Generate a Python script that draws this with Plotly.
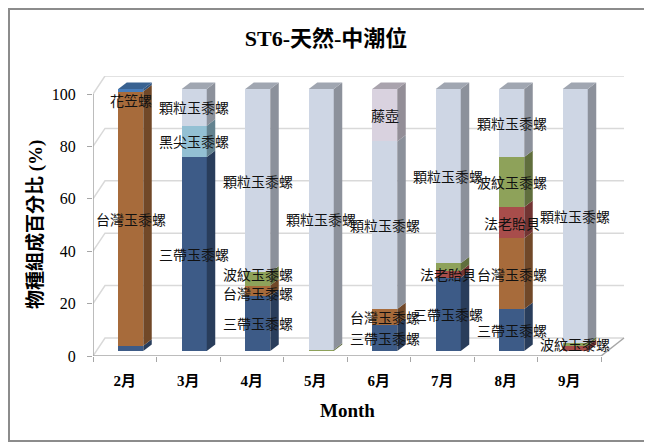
import plotly.graph_objects as go

months = ['2月', '3月', '4月', '5月', '6月', '7月', '8月', '9月']

# percentage of each species per month, listed bottom -> top of the stack
sandai = [2, 74, 21, 0, 10, 28, 16, 0]           # 三帶玉黍螺
taiwan = [97, 0, 4, 0, 6, 0, 27, 0]              # 台灣玉黍螺
huali = [1, 0, 0, 0, 0, 0, 0, 0]                 # 花笠螺
heijian = [0, 12, 0, 0, 0, 0, 0, 0]              # 黑尖玉黍螺
falao = [0, 0, 0, 0, 0, 2.5, 12, 2]              # 法老貽貝
bowen = [0, 0, 5, 0.5, 0, 3, 19, 1]              # 波紋玉黍螺
keli = [0, 14, 70, 99.5, 64, 66.5, 26, 97]       # 顆粒玉黍螺
tenghu = [0, 0, 0, 0, 20, 0, 0, 0]               # 藤壺

# which segments carry a data label in the original chart
sandai_lbl = [0, 1, 1, 0, 1, 1, 1, 0]
taiwan_lbl = [1, 0, 1, 0, 1, 0, 1, 0]
huali_lbl = [1, 0, 0, 0, 0, 0, 0, 0]
heijian_lbl = [0, 1, 0, 0, 0, 0, 0, 0]
falao_lbl = [0, 0, 0, 0, 0, 1, 1, 0]
bowen_lbl = [0, 0, 1, 0, 0, 0, 1, 1]
keli_lbl = [0, 1, 1, 1, 1, 1, 1, 1]
tenghu_lbl = [0, 0, 0, 0, 1, 0, 0, 0]

y_ticks = [0, 20, 40, 60, 80, 100]

series = [
    ('三帶玉黍螺', sandai, sandai_lbl, '#3D5B87'),
    ('台灣玉黍螺', taiwan, taiwan_lbl, '#A76B3B'),
    ('花笠螺', huali, huali_lbl, '#4A7EBB'),
    ('黑尖玉黍螺', heijian, heijian_lbl, '#93C0D3'),
    ('法老貽貝', falao, falao_lbl, '#A84D4B'),
    ('波紋玉黍螺', bowen, bowen_lbl, '#8EA25A'),
    ('顆粒玉黍螺', keli, keli_lbl, '#CED6E4'),
    ('藤壺', tenghu, tenghu_lbl, '#D9D2DF'),
]

# small label nudges (px) where Excel moved crowded labels apart
label_nudge = {('花笠螺', '2月'): -10, ('波紋玉黍螺', '4月'): 5, ('台灣玉黍螺', '4月'): -2}

# the page body keeps its default 8px margin, so work in page pixels
# and shift everything back by that amount
PAGE = 8
W, H = 652 - PAGE, 448 - PAGE
L, R, T, B = 93 - PAGE, 625 - PAGE, 76 - PAGE, 356 - PAGE
PX_X = 63.5          # px per category
PX_Y = 2.62          # px per percent
x_max = -0.5 + (R - L) / PX_X
y_max = (B - T) / PX_Y
lift = 5 / PX_Y      # bars stand a little back on the floor

bar_w = 25 / PX_X
bar_off = 6 / PX_X - bar_w / 2
side_dx, side_dy = 8.5 / PX_X, 6.5 / PX_Y
wall_dy = 18 / PX_Y
wall_dxl, wall_dxr = 12 / PX_X, 23 / PX_X

SERIF = 'Liberation Serif, Noto Sans CJK TC, serif'
CJK = 'Noto Sans CJK TC, sans-serif'


def shade(hex_color, k):
    r, g, b = (int(hex_color[i:i + 2], 16) for i in (1, 3, 5))
    return '#%02x%02x%02x' % (int(r * k), int(g * k), int(b * k))


def px_to_paper(px, py):
    # px, py are page pixels of the reference picture
    px, py = px - PAGE, py - PAGE
    return (px - L) / (R - L), (B - py) / (B - T)


fig = go.Figure()
shapes = []
annotations = []

# back wall / floor lines
for v in y_ticks:
    shapes.append(dict(type='path', xref='x', yref='y', layer='below',
                       path=f'M -0.5,{v} L {-0.5 + wall_dxl},{v + wall_dy} '
                            f'L {7.5 + wall_dxr},{v + wall_dy}',
                       line=dict(color='#D9D9D9', width=1.5)))
shapes.append(dict(type='line', xref='x', yref='y', layer='below',
                   x0=7.5, y0=0, x1=7.5 + wall_dxr, y1=wall_dy,
                   line=dict(color='#A6A6A6', width=1.5)))
# axis lines
shapes.append(dict(type='line', xref='x', yref='y', x0=-0.5, y0=0, x1=7.5, y1=0,
                   line=dict(color='#A6A6A6', width=1.5)))
shapes.append(dict(type='line', xref='x', yref='y', x0=-0.5, y0=0, x1=-0.5, y1=100,
                   line=dict(color='#A6A6A6', width=1.5)))

# front faces
for name, vals, lbls, color in series:
    fig.add_trace(go.Bar(
        x=months, y=vals, name=name, yaxis='y2',
        width=bar_w, offset=bar_off,
        marker=dict(color=color, line=dict(width=0)),
        hoverinfo='name+y', showlegend=False,
    ))

# side / top faces and labels
for i in range(len(months)):
    cum = 0
    xl = i + bar_off
    xr = xl + bar_w
    top_color = None
    for name, vals, lbls, color in series:
        v = vals[i]
        if v <= 0:
            continue
        y0, y1 = cum, cum + v
        shapes.append(dict(type='path', xref='x', yref='y2', layer='above',
                           path=f'M {xr},{y0} L {xr + side_dx},{y0 + side_dy} '
                                f'L {xr + side_dx},{y1 + side_dy} L {xr},{y1} Z',
                           fillcolor=shade(color, 0.68), line=dict(width=0)))
        if lbls[i]:
            annotations.append(dict(x=i, y=(y0 + y1) / 2, xref='x', yref='y2',
                                    text=name, showarrow=False, xshift=6,
                                    yshift=label_nudge.get((name, months[i]), 0),
                                    xanchor='center', yanchor='middle',
                                    font=dict(family=CJK, size=14, color='#111111')))
        cum = y1
        top_color = color
    shapes.append(dict(type='path', xref='x', yref='y2', layer='above',
                       path=f'M {xl},{cum} L {xl + side_dx},{cum + side_dy} '
                            f'L {xr + side_dx},{cum + side_dy} L {xr},{cum} Z',
                       fillcolor=shade(top_color, 0.78), line=dict(width=0)))

# outer chart border (the top-left corner can not go above the body margin)
bx0, by0 = px_to_paper(9, 441)
bx1, by1 = px_to_paper(648, 9)
shapes.append(dict(type='rect', xref='paper', yref='paper',
                   x0=bx0, y0=by0, x1=bx1, y1=by1,
                   line=dict(color='#8C8C8C', width=2)))

# axis titles
ax, ay = px_to_paper(35, 225)
annotations.append(dict(x=ax, y=ay, xref='paper', yref='paper', text='物種組成百分比 (%)',
                        textangle=-90, showarrow=False, xanchor='center', yanchor='middle',
                        font=dict(family=SERIF, size=19, color='black', weight='bold')))
mx, my = px_to_paper(347, 410)
annotations.append(dict(x=mx, y=my, xref='paper', yref='paper', text='Month',
                        showarrow=False, xanchor='center', yanchor='middle',
                        font=dict(family=SERIF, size=19, color='black', weight='bold')))

fig.update_layout(
    width=W, height=H,
    margin=dict(l=L, r=W - R, t=T, b=H - B, pad=0),
    title=dict(text='ST6-天然-中潮位', x=(326 - PAGE) / W, xref='container',
               xanchor='center', y=1 - (38 - PAGE) / H, yref='container',
               yanchor='middle',
               font=dict(family=SERIF, size=22, color='black', weight='bold')),
    barmode='stack',
    plot_bgcolor='white', paper_bgcolor='white',
    xaxis=dict(type='category', categoryorder='array', categoryarray=months,
               range=[-0.5, x_max], showgrid=False, zeroline=False, showline=False,
               ticks='outside', tickson='boundaries', ticklen=5, tickcolor='#A6A6A6',
               tickfont=dict(family=SERIF, size=15, color='black', weight='bold'),
               ticklabelstandoff=14, fixedrange=True),
    yaxis=dict(range=[0, y_max], tickvals=y_ticks, showgrid=False, zeroline=False,
               showline=False, ticks='outside', ticklen=5, tickcolor='#A6A6A6',
               tickfont=dict(family=SERIF, size=16, color='black'),
               ticklabelstandoff=8, fixedrange=True),
    yaxis2=dict(overlaying='y', range=[-lift, y_max - lift], visible=False,
                fixedrange=True),
    shapes=shapes,
    annotations=annotations,
    showlegend=False,
)

fig.write_html('out.html')
